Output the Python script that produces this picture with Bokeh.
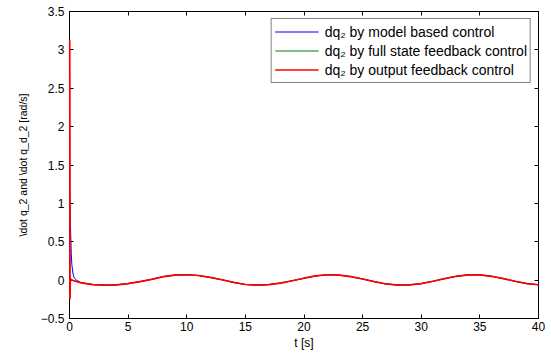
from bokeh.plotting import figure
from bokeh.models import (LinearAxis, Legend, LegendItem, FixedTicker, Range1d,
                          CustomJSTickFormatter)
from bokeh.embed import file_html
from bokeh.resources import INLINE

# steady oscillation (shared by the three controllers)
t_osc = [1, 2, 3, 4, 5, 6, 7, 8, 9, 10, 11, 12, 13, 14, 15, 16, 17, 18, 19, 20,
         21, 22, 23, 24, 25, 26, 27, 28, 29, 30, 31, 32, 33, 34, 35, 36, 37, 38, 39, 40]
y_osc = [-0.035, -0.058, -0.065, -0.062, -0.045, -0.02, 0.01, 0.045, 0.066, 0.07,
         0.06, 0.035, 0.005, -0.03, -0.057, -0.065, -0.058, -0.038, -0.008, 0.025,
         0.055, 0.07, 0.065, 0.045, 0.015, -0.02, -0.05, -0.064, -0.062, -0.045,
         -0.015, 0.02, 0.05, 0.068, 0.068, 0.05, 0.02, -0.015, -0.045, -0.06]

# initial transients
t_model_head = [0, 0.03, 0.06, 0.1, 0.15, 0.2, 0.3, 0.4, 0.6]
y_model_head = [3.1, 1.2, 0.8, 0.6, 0.35, 0.2, 0.08, 0.03, 0.0]
t_full_head = [0, 0.01, 0.03, 0.06, 0.3]
y_full_head = [3.1, 1.0, 0.1, 0.01, -0.005]
t_out_head = [0, 0.02, 0.04, 0.07, 0.1, 0.3]
y_out_head = [3.12, 3.12, -0.25, 0.02, 0.01, -0.005]

labels = ["dq\u2082 by model based control",
          "dq\u2082 by full state feedback control",
          "dq\u2082 by output feedback control"]
colors = ["#0000ff", "#008000", "#ff0000"]

x_ticks = [0, 5, 10, 15, 20, 25, 30, 35, 40]
y_ticks = [-0.5, 0, 0.5, 1, 1.5, 2, 2.5, 3, 3.5]

FONT = "Liberation Sans"

p = figure(width=551, height=354, output_backend="svg", toolbar_location=None,
           x_range=Range1d(0, 40), y_range=Range1d(-0.5, 3.5),
           min_border_left=69, min_border_right=13, min_border_top=11, min_border_bottom=36)
p.xgrid.visible = False
p.ygrid.visible = False
p.outline_line_color = "black"
p.outline_line_width = 1
p.background_fill_color = "white"
p.border_fill_color = "white"

series = [(t_model_head, y_model_head), (t_full_head, y_full_head), (t_out_head, y_out_head)]
widths = [1, 1, 1.7]
renderers = []
for (th, yh), c, w in zip(series, colors, widths):
    r = p.line(th + t_osc, yh + y_osc, line_color=c, line_width=w)
    renderers.append(r)
renderers[2].level = "overlay"

for ax in (p.xaxis[0], p.yaxis[0]):
    ax.major_tick_in = 4
    ax.major_tick_out = 0
    ax.minor_tick_in = 0
    ax.minor_tick_out = 0
    ax.axis_line_color = "black"
    ax.major_label_text_font = FONT
    ax.major_label_text_font_size = "12px"
    ax.major_label_text_color = "black"
    ax.axis_label_text_font = FONT
    ax.axis_label_text_font_size = "12px"
    ax.axis_label_text_font_style = "normal"
    ax.axis_label_text_color = "black"

p.xaxis[0].ticker = FixedTicker(ticks=x_ticks)
p.yaxis[0].ticker = FixedTicker(ticks=y_ticks)
p.xaxis[0].major_label_standoff = 3
p.xaxis[0].axis_label = "t [s]"
p.xaxis[0].axis_label_standoff = 2
p.yaxis[0].major_label_standoff = 5
p.yaxis[0].axis_label = "\\dot q_2 and \\dot q_d_2 [rad/s]"
p.yaxis[0].axis_label_standoff = 9
p.yaxis[0].axis_label_text_font_size = "10.5px"

for loc, ticks in (("above", x_ticks), ("right", y_ticks)):
    ax = LinearAxis(ticker=FixedTicker(ticks=ticks), major_tick_in=4, major_tick_out=0,
                    minor_tick_in=0, minor_tick_out=0,
                    formatter=CustomJSTickFormatter(code="return ''"),
                    major_label_standoff=0, axis_line_color="black")
    p.add_layout(ax, loc)

legend = Legend(items=[LegendItem(label=l, renderers=[r]) for l, r in zip(labels, renderers)],
                location="top_right", margin=7, padding=3, spacing=0,
                glyph_width=44, glyph_height=19, label_height=19, label_standoff=6,
                label_text_font=FONT, label_text_font_size="14px", label_text_color="black",
                border_line_color="black", border_line_width=1, background_fill_alpha=1)
p.add_layout(legend)

open("out.html", "w").write(file_html(p, INLINE))
